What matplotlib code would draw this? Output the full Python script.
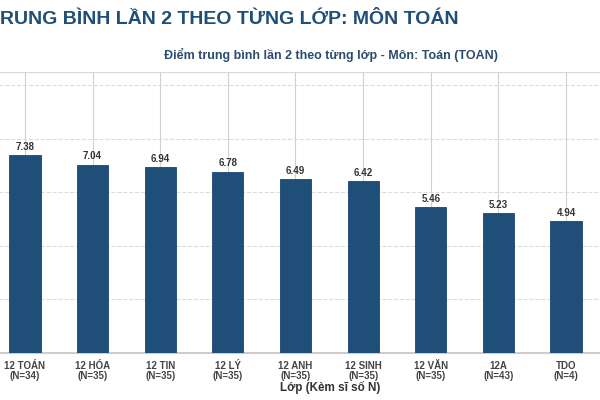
import matplotlib
matplotlib.use("Agg")
import matplotlib.pyplot as plt

plt.rcParams['font.family'] = ['Liberation Sans', 'DejaVu Sans']

# data
classes = ['12 TOÁN', '12 HÓA', '12 TIN', '12 LÝ', '12 ANH', '12 SINH', '12 VĂN', '12A', 'TDO']
sizes = [34, 35, 35, 35, 35, 35, 35, 43, 4]
scores = [7.38, 7.04, 6.94, 6.78, 6.49, 6.42, 5.46, 5.23, 4.94]
yticks = [0, 2, 4, 6, 8, 10]

W, H = 600, 400
fig = plt.figure(figsize=(6, 4), dpi=100)

# axes run a little past the left/right edges (screenshot is cropped)
x0, x1 = -19, 610
y0, y1 = 353, 72
ax = fig.add_axes([x0 / W, (H - y0) / H, (x1 - x0) / W, (y0 - y1) / H])

xs = list(range(len(classes)))
bars = ax.bar(xs, scores, width=0.46, color='#1f4e79', edgecolor='#1a4470', linewidth=0.6, zorder=3)

for b, v in zip(bars, scores):
    ax.text(b.get_x() + b.get_width() / 2, v + 0.12, f"{v:.2f}", ha='center', va='bottom',
            fontsize=7, fontweight='bold', color='#333333', zorder=4)

ax.set_xlim(-0.65, 8.65)
ax.set_ylim(0, 10.5)
ax.set_yticks(yticks)
ax.set_yticklabels([])
ax.tick_params(axis='y', length=0)
ax.set_xticks(xs)
ax.set_xticklabels([f"{c}\n(N={n})" for c, n in zip(classes, sizes)],
                   fontsize=7, fontweight='bold', color='#444444', linespacing=1.0)
ax.tick_params(axis='x', length=0, pad=6)

ax.grid(axis='y', linestyle='--', color='#dcdcdc', linewidth=0.8, zorder=0)
ax.grid(axis='x', linestyle='-', color='#d0d0d0', linewidth=0.8, zorder=0)
for s in ['left', 'right']:
    ax.spines[s].set_visible(False)
ax.spines['top'].set_color('#d8d8d8')
ax.spines['bottom'].set_color('#cccccc')
ax.spines['bottom'].set_linewidth(1.5)

fig.text(330 / W, 1 - 387 / H, "Lớp (Kèm sĩ số N)", ha='center', va='center',
         fontsize=8.4, fontweight='bold', color='#333333')

fig.text(331 / W, 1 - 55 / H, "Điểm trung bình lần 2 theo từng lớp - Môn: Toán (TOAN)",
         ha='center', va='center', fontsize=9, fontweight='bold', color='#2b4c6f')

fig.text(-12 / W, 1 - 19 / H, "TRUNG BÌNH LẦN 2 THEO TỪNG LỚP: MÔN TOÁN",
         ha='left', va='center', fontsize=14, fontweight='bold', color='#1f4e79')

fig.savefig("out.png", dpi=100)
